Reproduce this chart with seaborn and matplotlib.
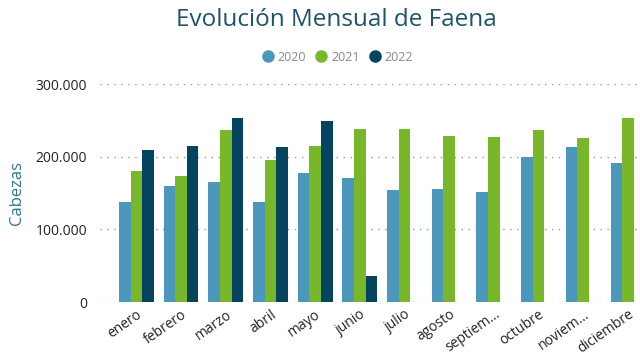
import numpy as np
import pandas as pd
import seaborn as sns
import matplotlib.pyplot as plt
from matplotlib.ticker import FuncFormatter
from matplotlib.lines import Line2D

meses = ['enero', 'febrero', 'marzo', 'abril', 'mayo', 'junio', 'julio',
         'agosto', 'septiem...', 'octubre', 'noviem...', 'diciembre']
anios = ['2020', '2021', '2022']
v2020 = [138300, 160300, 164900, 138300, 178200, 170400, 154300,
         155300, 152100, 199700, 213000, 191000]
v2021 = [180000, 173600, 236800, 195600, 215300, 238200, 237700,
         228100, 227600, 236300, 226300, 252800]
v2022 = [209800, 214300, 252800, 213400, 248700, 35700, np.nan,
         np.nan, np.nan, np.nan, np.nan, np.nan]
colores = ['#4c97bc', '#78b72a', '#05445e']

df = pd.DataFrame({
    'mes': meses * 3,
    'anio': ['2020'] * 12 + ['2021'] * 12 + ['2022'] * 12,
    'cabezas': v2020 + v2021 + v2022,
})

sns.set_style('white')
plt.rcParams['font.family'] = ['Open Sans', 'DejaVu Sans']

fig = plt.figure(figsize=(6.4, 3.64), dpi=100)
ax = fig.add_axes([0.156, 0.17, 0.844, 0.599])
sns.barplot(data=df, x='mes', y='cabezas', hue='anio', hue_order=anios,
            order=meses, palette=colores, width=0.78, saturation=1,
            errorbar=None, ax=ax, legend=False, linewidth=0)

ax.set_ylim(0, 300000)
ax.set_xlim(-0.817, 11.27)
ax.set_yticks([0, 100000, 200000, 300000])
ax.yaxis.set_major_formatter(FuncFormatter(lambda v, p: f'{int(v):,}'.replace(',', '.')))
ax.grid(axis='y', linestyle=(0, (1, 4)), color='#999999', linewidth=1)
ax.set_axisbelow(True)
sns.despine(ax=ax, left=True, bottom=True)
ax.tick_params(axis='both', length=0, labelsize=10, colors='#222222')
ax.tick_params(axis='y', pad=9)
plt.setp(ax.get_xticklabels(), rotation=35, ha='right', rotation_mode='anchor')
ax.set_xlabel('')
ax.set_ylabel('Cabezas', fontsize=12, color='#2e7590', labelpad=8)

fig.text(0.525, 0.945, 'Evolución Mensual de Faena', ha='center', va='center',
         fontsize=17.5, color='#1d5468')
handles = [Line2D([], [], marker='o', linestyle='', markersize=8, color=c) for c in colores]
fig.legend(handles, anios, loc='center', bbox_to_anchor=(0.522, 0.843), ncol=3,
           frameon=False, handletextpad=-0.2, columnspacing=0.2,
           labelcolor='#888888', fontsize=9)

fig.savefig('out.png', dpi=100)
